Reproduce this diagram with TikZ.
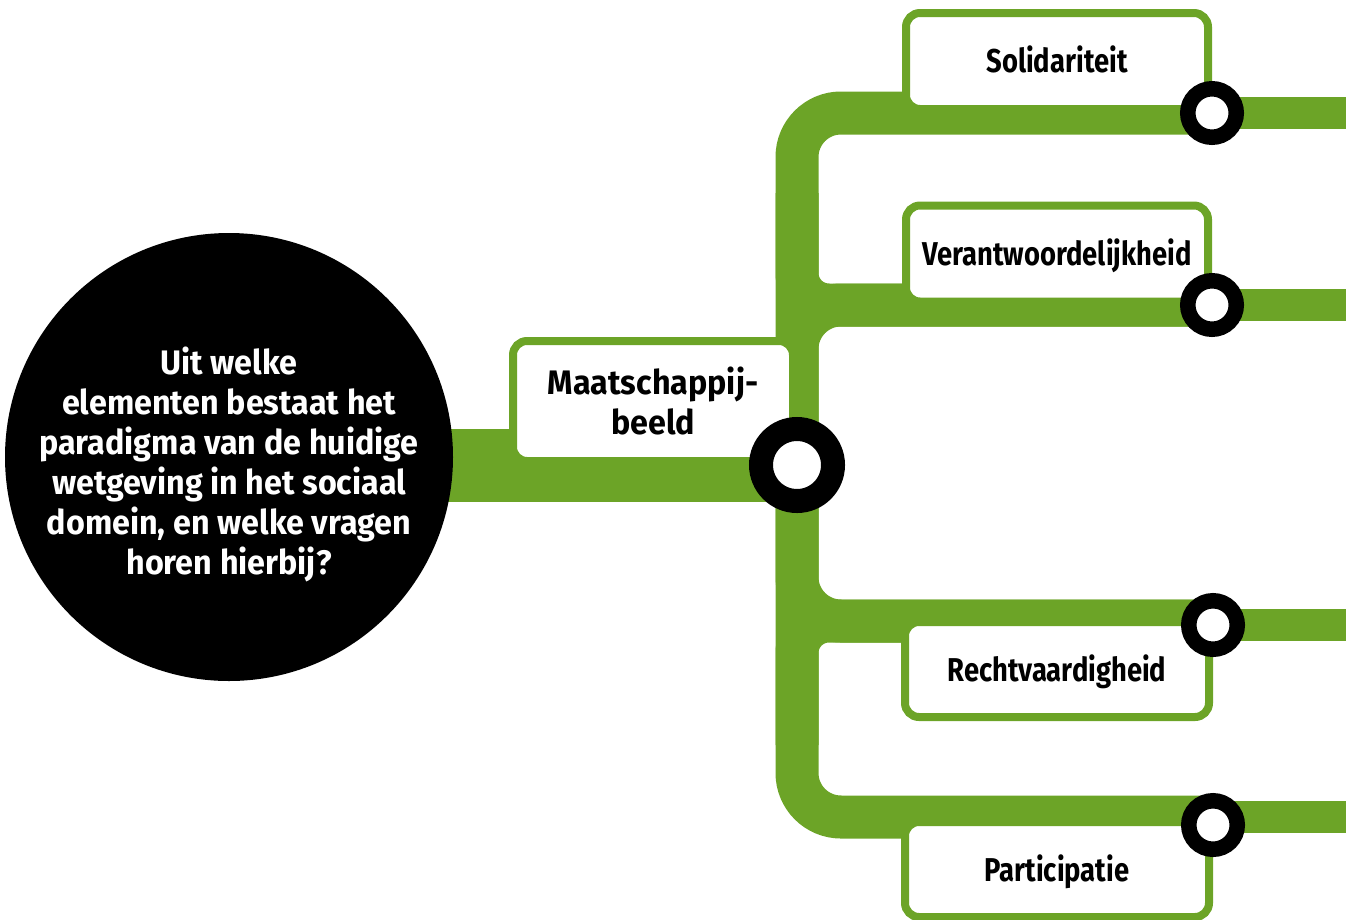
\documentclass[tikz,border=0pt]{standalone}
\usepackage{fontspec}
\setmainfont{Fira Sans}[FakeStretch=0.95]
\newfontfamily\smalfont{Fira Sans}[FakeStretch=0.83]
\usepackage{tikz}
\usetikzlibrary{calc, backgrounds}
\definecolor{lijngroen}{RGB}{108,164,39}
\tikzset{
    % thick green lines of the map
    band/.style={draw=lijngroen, line width=43pt, rounded corners=44pt},
    thinband/.style={draw=lijngroen, line width=32pt},
    % white label with green frame
    element/.style={
        rectangle, rounded corners=14pt, draw=lijngroen, line width=8pt, fill=white,
        minimum width=302pt, minimum height=96pt, inner sep=0pt,
        font=\smalfont\bfseries\fontsize{33}{40}\selectfont
    },
    oneline/.style={text height=23pt, text depth=0pt},
    % black ring on the line
    stop/.style={circle, draw=black, fill=white, line width=15.5pt, minimum size=48.5pt, inner sep=0pt}
}

\begin{document}
\begin{tikzpicture}[x=1pt, y=-1pt]
    \useasboundingbox (0,0) rectangle (1346,919);
    \coordinate (rim) at (1346,0);

    \node[circle, fill=black, minimum size=448pt, inner sep=0pt] (vraag) at (229,457) {};
    \node[text=white, align=center, inner sep=0pt,
          font=\bfseries\fontsize{34}{40}\selectfont] (vraagtekst) at ([yshift=-7pt]vraag.center)
        {Uit welke\\elementen bestaat het\\paradigma van de huidige\\wetgeving in het sociaal\\domein, en welke vragen\\horen hierbij?};

    \node[element, minimum width=280pt, minimum height=120pt, align=center,
          font=\bfseries\fontsize{34}{40}\selectfont] (beeld) at (653,401) {Maatschappij-\\beeld};
    \node[element, oneline] (solidariteit) at (1057,61) {Solidariteit};
    \node[element, oneline] (verantw) at (1057,253.5) {Verantwoordelijkheid};
    \node[element, oneline, minimum width=304pt, minimum height=95pt] (recht) at (1057,669.5) {Rechtvaardigheid};
    \node[element, oneline, minimum width=304pt, minimum height=95pt] (partic) at (1057,869.5) {Participatie};

    \node[stop] (sol) at (1212,113) {};
    \node[stop] (ver) at (1212,305) {};
    \node[stop] (rec) at (1213,625) {};
    \node[stop] (par) at (1213,825) {};
    \node[stop, line width=24pt, minimum size=72pt] (hub) at (797,465) {};

    \coordinate (recbaan) at ($(rec.center)+(0,-4)$);
    \coordinate (parbaan) at ($(par.center)+(0,-8)$);

    \begin{scope}[on background layer]
        \draw[draw=lijngroen, line width=73pt] (vraag.center |- hub.center) -- (hub.center);
        \draw[band] (hub.center) |- (sol.center);
        \draw[band] (hub.center) |- (ver.center);
        \draw[band, rounded corners=32pt] ($(hub.center |- sol.center)+(0,80)$) |- (ver.center);
        \draw[band] (hub.center) |- (recbaan);
        \draw[band, rounded corners=32pt] ($(hub.center |- par.center)+(0,-80)$) |- (recbaan);
        \draw[band] (hub.center) |- (parbaan);
        \foreach \s in {sol, ver, rec} {
            \draw[thinband] (\s.center) -- (\s.center -| rim);
        }
        \draw[thinband] (parbaan) -- (parbaan -| rim);
    \end{scope}
\end{tikzpicture}
\end{document}
